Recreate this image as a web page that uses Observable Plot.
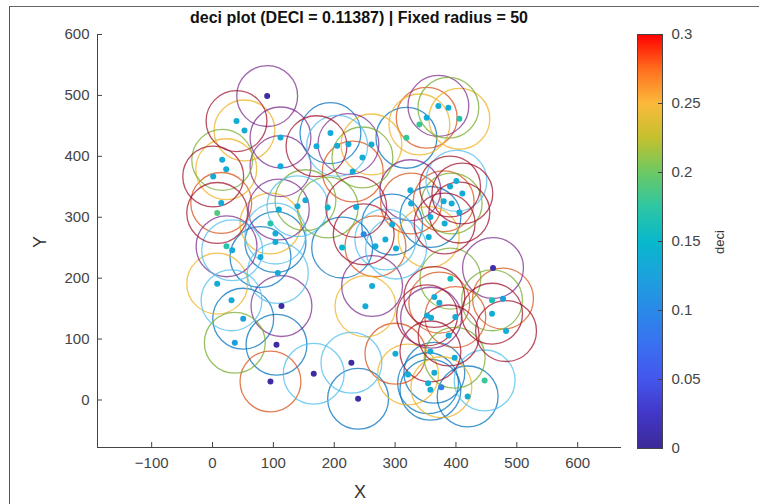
<!DOCTYPE html>
<html>
<head>
<meta charset="utf-8">
<script src="https://cdn.jsdelivr.net/npm/d3@7"></script>
<script src="https://cdn.jsdelivr.net/npm/@observablehq/plot@0.6"></script>
<style>
  body { margin: 0; background: #fff; font-family: "Liberation Sans", Arial, Helvetica, sans-serif; }
  #wrap { position: relative; width: 759px; height: 504px; overflow: hidden; background: #fff; }
  #frame { position: absolute; left: 9px; top: 6px; width: 800px; height: 600px; border-left: 1.5px solid #555; border-top: 1.5px solid #666; }
  #main, #cbar { position: absolute; top: 0; }
  #main { left: 0; }
  #cbar { left: 636px; }
  .title { position: absolute; left: 0; top: 8px; width: 718px; text-align: center; font-weight: bold; font-size: 16px; color: #111; line-height: 20px; white-space: nowrap; }
  .xlab { position: absolute; left: 340px; top: 481px; width: 40px; text-align: center; font-size: 18px; color: #333; line-height: 22px; }
  .ylab { position: absolute; left: 20px; top: 231px; width: 40px; text-align: center; font-size: 18px; color: #333; line-height: 22px; transform: rotate(-90deg); }
  .clab { position: absolute; left: 700px; top: 233px; width: 40px; text-align: center; font-size: 13px; color: #333; line-height: 18px; transform: rotate(-90deg); }
</style>
</head>
<body>
<div id="wrap">
  <div id="frame"></div>
  <div id="main"></div>
  <div id="cbar"></div>
  <div class="title">deci plot (DECI = 0.11387) | Fixed radius = 50</div>
  <div class="xlab">X</div>
  <div class="ylab">Y</div>
  <div class="clab">deci</div>
</div>
<script>
// ---- data ----
const xs = [89.8, 39.4, 52.5, 111.7, 111.7, 193.8, 170.8, 204.8, 223.3, 261.1,
  246.3, 230.4, 15.9, 22.5, 1.1, 14.3, 7.7, 152.7, 108.9, 139.6,
  189.3, 236, 95.2, 103.4, 103.4, 23, 32.3, 78.8, 107.3, 7.7,
  31.2, 50.4, 113.3, 262.2, 251.2, 213, 284, 371.1, 387.5, 405.6,
  351.9, 339.9, 318.6, 400.7, 390.3, 325.1, 410.5, 326.3, 379.8, 392.9,
  405.6, 358, 381.4, 295.1, 355.2, 248.4, 267.7, 301.6, 460.9, 390.8,
  364.5, 372.7, 459.3, 477.3, 459.3, 352.5, 359.1, 399, 482.3, 388,
  36.6, 105.1, 166.3, 95.2, 228.2, 239.2, 300.5, 358, 397.9, 321.3,
  364.5, 354.2, 376, 358, 447.1, 419.2];
const ys = [498.9, 457.8, 442.5, 431, 383.9, 438.1, 416.7, 417.2, 420, 419.5,
  398.2, 375.1, 394.2, 378.9, 366.9, 323.5, 307.1, 328, 312.7, 318,
  316, 317, 289.7, 273.2, 259.4, 252.3, 245.8, 234.8, 208.5, 191,
  163.6, 133.5, 154.2, 187.1, 153.7, 250.2, 263.4, 482.8, 479.7, 461.6,
  463.3, 452.4, 430.4, 359.7, 350.5, 344.4, 339, 322.5, 326.3, 322.5,
  307.7, 300.5, 289.7, 288, 267.6, 272, 252.3, 248.6, 216.7, 199.2,
  169, 159.8, 163.6, 166.4, 141.7, 138.9, 135.1, 136.1, 113.1, 106,
  94, 90.7, 43.1, 30.4, 61.2, 2, 76, 79.7, 69.4, 41.9,
  44.7, 27.6, 21, 16.8, 32.1, 5.8];
const deci = [0.005, 0.135, 0.135, 0.135, 0.135, 0.135, 0.135, 0.135, 0.135, 0.135,
  0.135, 0.135, 0.135, 0.135, 0.135, 0.135, 0.19, 0.135, 0.135, 0.135,
  0.15, 0.135, 0.17, 0.135, 0.135, 0.17, 0.135, 0.135, 0.135, 0.135,
  0.135, 0.12, 0.005, 0.135, 0.135, 0.15, 0.135, 0.135, 0.135, 0.17,
  0.135, 0.18, 0.18, 0.135, 0.135, 0.135, 0.135, 0.135, 0.135, 0.135,
  0.135, 0.135, 0.135, 0.135, 0.135, 0.10, 0.135, 0.135, 0.01, 0.16,
  0.135, 0.135, 0.16, 0.12, 0.135, 0.135, 0.135, 0.135, 0.135, 0.135,
  0.12, 0.005, 0.005, 0.005, 0.005, 0.005, 0.135, 0.135, 0.135, 0.135,
  0.135, 0.135, 0.09, 0.135, 0.18, 0.135];
// index into the line colour order used for each point's circle
const ring = [3, 6, 2, 3, 3, 0, 6, 5, 3, 2,
  4, 1, 4, 2, 6, 1, 6, 4, 3, 5,
  4, 6, 2, 5, 0, 3, 5, 0, 5, 2,
  5, 0, 3, 3, 2, 0, 5, 3, 4, 2,
  1, 2, 0, 5, 6, 3, 6, 1, 1, 4,
  6, 0, 6, 0, 2, 6, 1, 5, 3, 4,
  6, 1, 4, 1, 6, 6, 3, 1, 6, 6,
  4, 0, 5, 1, 5, 0, 1, 6, 4, 2,
  0, 0, 2, 0, 5, 0];
const radius = 50;
const xTicks = [-100, 0, 100, 200, 300, 400, 500, 600];
const yTicks = [0, 100, 200, 300, 400, 500, 600];
const cbTicks = [0, 0.05, 0.1, 0.15, 0.2, 0.25, 0.3];
const lineColors = ["#0072BD", "#D95319", "#EDB120", "#7E2F8E", "#77AC30", "#4DBEEE", "#A2142F"];
const cmapStops = ["#3c2a98", "#4237c8", "#4456ec", "#3a70f2", "#2a8ae8", "#1ca2dd", "#08b8cc",
  "#2ec6a4", "#6cc964", "#c4c02e", "#fbba3c", "#ff6e1e", "#ff0000"];

const points = xs.map((x, i) => ({x, y: ys[i], deci: deci[i], ring: ring[i]}));

// ---- layout ----
const W = 759, H = 504, mL = 97, mR = 138, mT = 34, mB = 57;
const xDom = [-189, 672], yDom = [-78, 600];
const frameW = W - mL - mR, frameH = H - mT - mB;
const rPx = radius * frameW / (xDom[1] - xDom[0]);
const axisCol = "#444";
const interp = d3.piecewise(d3.interpolateRgb, cmapStops);
const colorScale = {type: "linear", domain: [0, 0.3], interpolate: t => interp(t)};

const main = Plot.plot({
  width: W, height: H,
  marginLeft: mL, marginRight: mR, marginTop: mT, marginBottom: mB,
  style: {fontFamily: "'Liberation Sans', Arial, sans-serif", fontSize: "15px", color: "#444", background: "transparent", overflow: "visible"},
  x: {domain: xDom, ticks: xTicks, tickSize: 0, tickPadding: 10, label: null},
  y: {domain: yDom, ticks: yTicks, tickSize: 0, tickPadding: 8, label: null},
  color: colorScale,
  marks: [
    ...lineColors.map((c, k) => Plot.dot(points.filter(d => d.ring === k), {
      x: "x", y: "y", r: rPx, stroke: c, strokeOpacity: 0.75, strokeWidth: 1.3, fill: "none"
    })),
    Plot.dot(points, {x: "x", y: "y", r: 3, fill: "deci", stroke: null}),
    Plot.ruleX([xDom[0]], {stroke: axisCol, strokeWidth: 1}),
    Plot.ruleY([yDom[0]], {stroke: axisCol, strokeWidth: 1}),
    Plot.tickX(xTicks, {x: d => d, insetTop: frameH - 5, stroke: axisCol}),
    Plot.tickY(yTicks, {y: d => d, insetRight: frameW - 5, stroke: axisCol})
  ]
});
document.getElementById("main").appendChild(main);

const cbW = 25;
const cbar = Plot.plot({
  width: 120, height: H,
  marginLeft: 1, marginRight: 120 - 1 - cbW, marginTop: 34, marginBottom: 56,
  style: {fontFamily: "'Liberation Sans', Arial, sans-serif", fontSize: "15px", color: "#444", background: "transparent", overflow: "visible"},
  x: {domain: [0, 1], axis: null},
  y: {domain: [0, 0.3], axis: "right", ticks: cbTicks, tickSize: 0, tickPadding: 9, label: null, tickFormat: d => String(+d.toFixed(2))},
  color: colorScale,
  marks: [
    Plot.raster({x1: 0, x2: 1, y1: 0, y2: 0.3, width: 1, height: 300, fill: (x, y) => y}),
    Plot.tickY(cbTicks, {y: d => d, insetLeft: cbW - 4, stroke: axisCol}),
    Plot.frame({stroke: axisCol, strokeWidth: 1})
  ]
});
document.getElementById("cbar").appendChild(cbar);
</script>
</body>
</html>
